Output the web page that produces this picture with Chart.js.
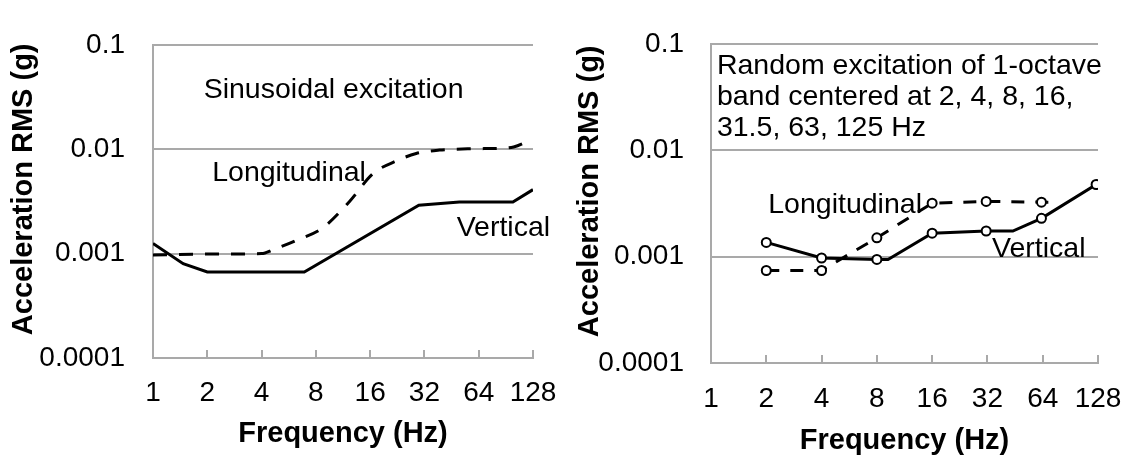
<!DOCTYPE html>
<html>
<head>
<meta charset="utf-8">
<script src="https://cdn.jsdelivr.net/npm/chart.js@4.4.1/dist/chart.umd.min.js"></script>
<style>
  html, body { margin: 0; padding: 0; background: #fff; }
  #wrap { position: relative; width: 1130px; height: 457px; }
  .box { position: absolute; top: 0; width: 565px; height: 457px; }
</style>
</head>
<body>
<div id="wrap">
  <div class="box" style="left:0"><canvas id="sine" width="565" height="457"></canvas></div>
  <div class="box" style="left:565px"><canvas id="random" width="565" height="457"></canvas></div>
</div>
<script>
// Axis ticks
const freqTicks = [1, 2, 4, 8, 16, 32, 64, 128];
const freqLabels = ['1', '2', '4', '8', '16', '32', '64', '128'];
const accTicks = [0.0001, 0.001, 0.01, 0.1];
const accLabels = ['0.0001', '0.001', '0.01', '0.1'];

// Sinusoidal excitation (left)
const sineVertFreq = [1, 1.47, 2, 6.9, 29.8, 50, 99, 128];
const sineVertAcc  = [0.00125, 0.0008, 0.000667, 0.000667, 0.0029, 0.00312, 0.00312, 0.0041];
const sineLongFreq = [1, 2, 4, 4.64, 6.24, 8.75, 12.3, 16.6, 22.3, 28.8, 38.8, 60, 84, 100, 128];
const sineLongAcc  = [0.00097, 0.00099, 0.001, 0.00109, 0.00134, 0.00177, 0.00316, 0.00585, 0.0077, 0.0091, 0.0098, 0.0101, 0.0102, 0.0105, 0.0126];

// Random excitation, 1-octave bands (right)
const bandCenters  = [2, 4, 8, 16, 31.5, 63, 125];
const randVertFreq = [2, 4, 8, 9.2, 16, 31.5, 44, 63, 125, 128];
const randVertAcc  = [0.00136, 0.00097, 0.00094, 0.00094, 0.00166, 0.00174, 0.00174, 0.00229, 0.00476, 0.0050];
const randLongFreq = [2, 4, 8, 16, 31.5, 63, 71];
const randLongAcc  = [0.00074, 0.00074, 0.0015, 0.00318, 0.0033, 0.00325, 0.00325];

const FONT = '"Liberation Sans", Arial, sans-serif';
const GRID = '#a9a9a9';
const NB = '\u00A0\u00A0\u00A0';   // nudges the rotated title up a little
const pts = (fs, gs) => fs.map((f, i) => ({ x: f, y: gs[i] }));

// text labels placed in data coordinates
const notesPlugin = {
  id: 'notes',
  afterDatasetsDraw(chart, args, opts) {
    const { ctx, scales: { x, y } } = chart;
    ctx.save();
    ctx.font = `28.5px ${FONT}`;
    ctx.fillStyle = '#000';
    ctx.textAlign = 'left';
    ctx.textBaseline = 'middle';
    (opts.items || []).forEach(n => ctx.fillText(n.text, x.getPixelForValue(n.f), y.getPixelForValue(n.g)));
    ctx.restore();
  }
};

function makeChart(id, c) {
  return new Chart(document.getElementById(id), {
    type: 'line',
    data: { datasets: c.datasets },
    plugins: [notesPlugin],
    options: {
      responsive: false,
      animation: false,
      devicePixelRatio: 1,
      layout: { padding: { left: 0, top: 23, right: 32, bottom: 0 } },
      plugins: { legend: { display: false }, tooltip: { enabled: false }, notes: { items: c.notes } },
      scales: {
        x: {
          type: 'logarithmic', min: 1, max: 128,
          afterBuildTicks: s => { s.ticks = freqTicks.map(v => ({ value: v })); },
          afterFit: s => { s.height = c.xH; },
          grid: { drawOnChartArea: false, drawTicks: true, tickLength: -8, color: GRID, lineWidth: 2 },
          border: { color: GRID, width: 2 },
          ticks: { color: '#000', font: { size: 28, family: FONT, lineHeight: 2.6 }, padding: c.xTickPad, autoSkip: false, maxRotation: 0,
                   callback: (v, i) => freqLabels[i] },
          title: { display: true, text: 'Frequency (Hz)', color: '#000',
                   font: { size: 29, weight: 'bold', family: FONT, lineHeight: 1 }, padding: { top: 0, bottom: c.xTitlePad } }
        },
        y: {
          type: 'logarithmic', min: 0.0001, max: 0.1,
          afterBuildTicks: s => { s.ticks = accTicks.map(v => ({ value: v })); },
          afterFit: s => { s.width = c.yW; },
          grid: { drawTicks: false, color: GRID, lineWidth: 2 },
          border: { color: GRID, width: 2 },
          ticks: { color: '#000', font: { size: 28, family: FONT }, padding: c.yTickPad,
                   callback: (v, i) => accLabels[i] },
          title: { display: true, text: NB + 'Acceleration RMS (g)', color: '#000',
                   font: { size: 29, weight: 'bold', family: FONT, lineHeight: 1 }, padding: { top: c.yTitlePad, bottom: 0 } }
        }
      }
    }
  });
}

makeChart('sine', {
  xH: 99, yW: 153, xTickPad: 6.6, yTickPad: 28, xTitlePad: 8.5, yTitlePad: 9.5,
  datasets: [
    { label: 'Vertical', data: pts(sineVertFreq, sineVertAcc), borderColor: '#000', borderWidth: 3, pointRadius: 0, tension: 0 },
    { label: 'Longitudinal', data: pts(sineLongFreq, sineLongAcc), borderColor: '#000', borderWidth: 3, borderDash: [14, 12],
      pointRadius: 0, cubicInterpolationMode: 'monotone' }
  ],
  notes: [
    { text: 'Sinusoidal excitation', f: 1.91, g: 0.0365 },
    { text: 'Longitudinal', f: 2.13, g: 0.0059 },
    { text: 'Vertical', f: 48.3, g: 0.00174 }
  ]
});

const bandMarker = ctx => (ctx.raw && bandCenters.includes(ctx.raw.x)) ? 4.5 : 0;

makeChart('random', {
  xH: 94, yW: 146, xTickPad: 8.3, yTickPad: 27, xTitlePad: 2, yTitlePad: 10.5,
  datasets: [
    { label: 'Vertical', data: pts(randVertFreq, randVertAcc), borderColor: '#000', borderWidth: 3, tension: 0,
      pointRadius: bandMarker, pointBackgroundColor: '#fff', pointBorderColor: '#000', pointBorderWidth: 2 },
    { label: 'Longitudinal', data: pts(randLongFreq, randLongAcc), borderColor: '#000', borderWidth: 3, borderDash: [13, 11], tension: 0,
      pointRadius: bandMarker, pointBackgroundColor: '#fff', pointBorderColor: '#000', pointBorderWidth: 2 }
  ],
  notes: [
    { text: 'Random excitation of 1-octave', f: 1.077, g: 0.0614 },
    { text: 'band centered at 2, 4, 8, 16,', f: 1.077, g: 0.0314 },
    { text: '31.5, 63, 125 Hz', f: 1.077, g: 0.0161 },
    { text: 'Longitudinal', f: 2.05, g: 0.00303 },
    { text: 'Vertical', f: 33.9, g: 0.001175 }
  ]
});
</script>
</body>
</html>
